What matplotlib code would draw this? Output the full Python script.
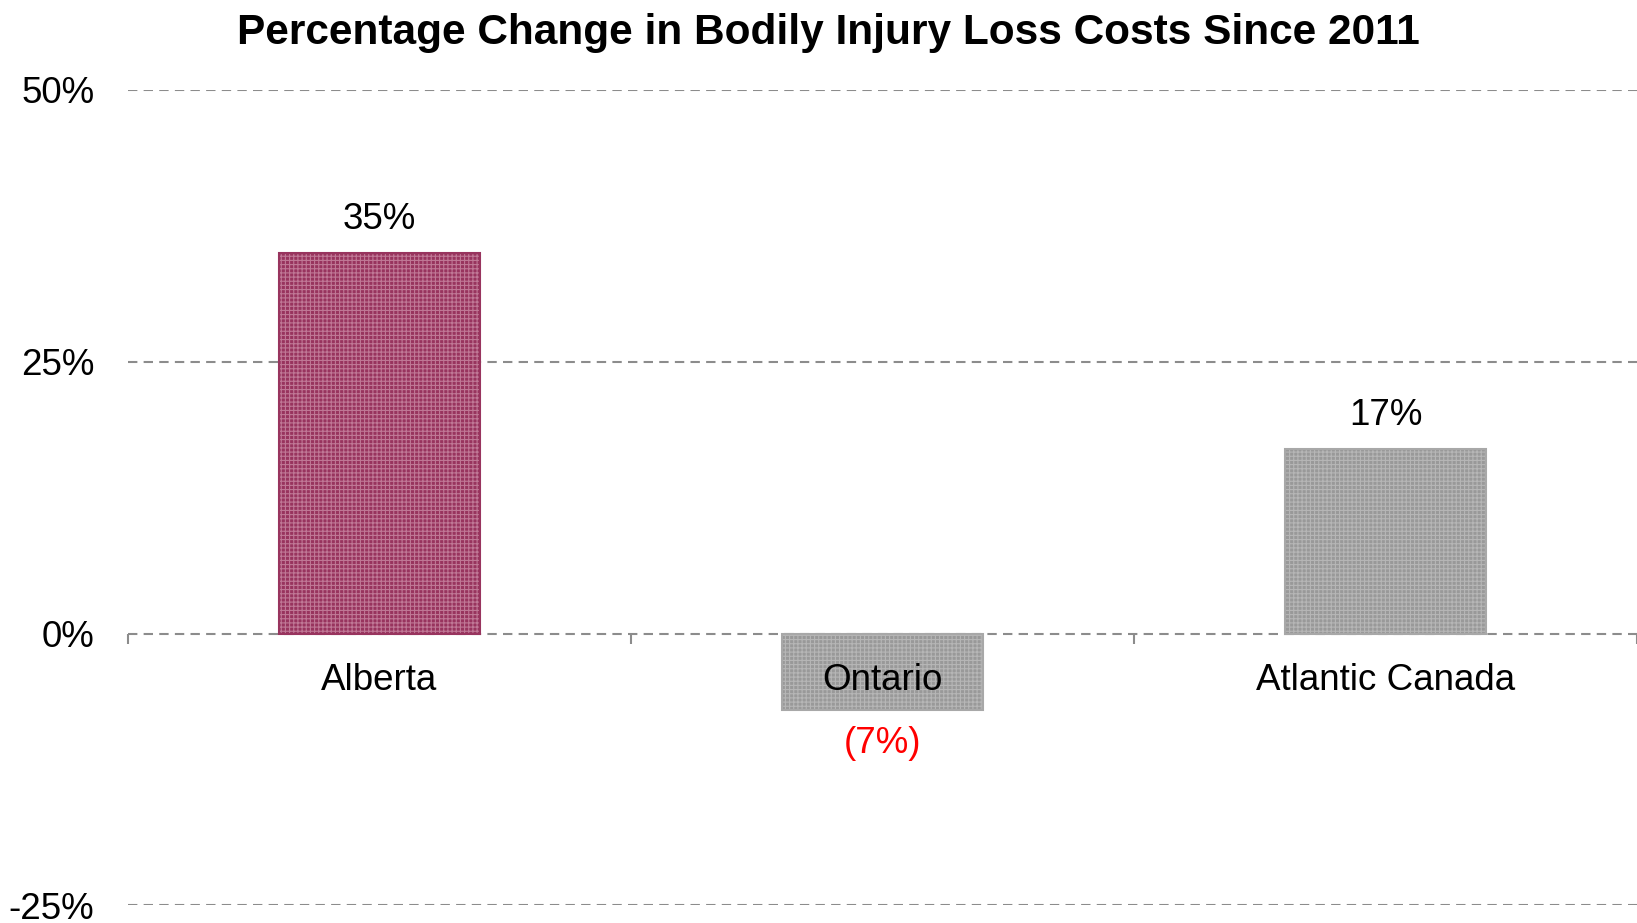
import matplotlib.pyplot as plt

plt.rcParams.update({
    "font.family": ["Liberation Sans", "DejaVu Sans"],
    "hatch.linewidth": 0.8,
})

# Data
regions = ['Alberta', 'Ontario', 'Atlantic Canada']
changes = [35, -7, 17]
value_labels = ['35%', '(7%)', '17%']
y_ticks = [-25, 0, 25, 50]
y_tick_labels = ['-25%', '0%', '25%', '50%']

# Colours
face_colors = ['#98345e', '#999999', '#999999']
hatch_colors = ['#c07896', '#b6b6b6', '#b6b6b6']
edge_colors = ['#98345e', '#a8a8a8', '#a8a8a8']
label_colors = ['black', 'red', 'black']
grid_color = '#8c8c8c'

fig = plt.figure(figsize=(16.37, 9.23), dpi=100)
ax = fig.add_axes([0.078, 0.019, 0.922, 0.8835])

x = list(range(len(regions)))

# put the x axis at zero first (this resets the ticks)
ax.spines['bottom'].set_position(('data', 0))
ax.spines['bottom'].set_visible(False)
for s in ['top', 'left', 'right']:
    ax.spines[s].set_visible(False)

# bars with cross-hatch texture (below axis so the labels stay on top)
ax.bar(x, changes, width=0.4, color=face_colors, edgecolor=hatch_colors,
       hatch='++++', linewidth=0, zorder=1.2)
ax.bar(x, changes, width=0.4, fill=False, edgecolor=edge_colors,
       linewidth=1.5, zorder=1.3)

# dashed grid lines (beneath bars)
for yt in y_ticks:
    ax.axhline(yt, color=grid_color, linestyle=(0, (4.5, 3)), linewidth=1.5, zorder=1)

# value labels
for xi, val, lab, col in zip(x, changes, value_labels, label_colors):
    if val >= 0:
        ax.annotate(lab, (xi, val), xytext=(0, 24), textcoords='offset points',
                    ha='center', va='center', fontsize=26.5, color=col)
    else:
        ax.annotate(lab, (xi, val), xytext=(0, -24), textcoords='offset points',
                    ha='center', va='center', fontsize=26.5, color=col)

ax.set_xlim(-0.5, 2.5)
ax.set_ylim(-25, 50)
ax.set_yticks(y_ticks)
ax.set_yticklabels(y_tick_labels)
ax.tick_params(axis='y', length=0, pad=24, labelsize=26.5)

ax.set_xticks(x)
ax.set_xticklabels(regions)
ax.tick_params(axis='x', which='major', length=0, pad=21, labelsize=26.5)
ax.set_xticks([-0.5, 0.5, 1.5, 2.5], minor=True)
ax.tick_params(axis='x', which='minor', length=7, width=1.5, color=grid_color)

fig.suptitle('Percentage Change in Bodily Injury Loss Costs Since 2011',
             fontsize=30.5, fontweight='bold', x=0.506, y=0.964, va='center')

plt.savefig('out.png', dpi=100)
